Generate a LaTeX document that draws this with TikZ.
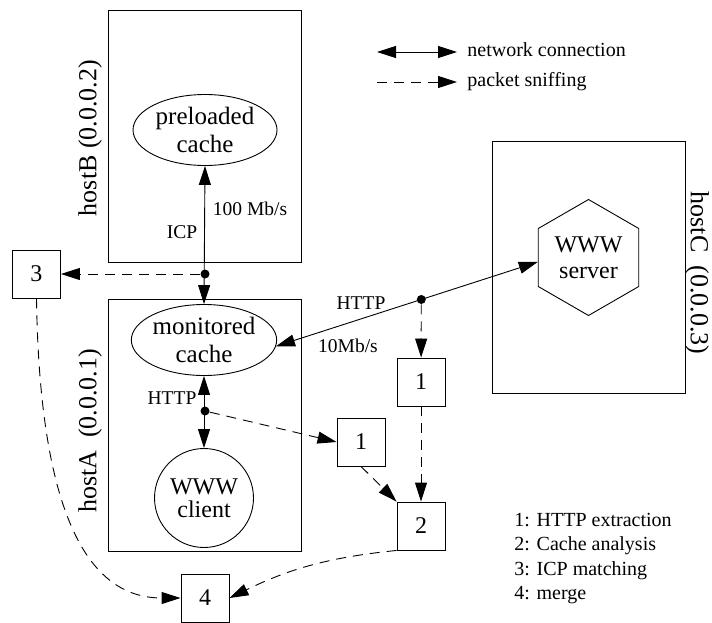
\documentclass[tikz,border=0pt]{standalone}
\usepackage{fontspec}
\setmainfont{Liberation Serif}
\usetikzlibrary{arrows.meta, shapes.geometric, calc, positioning}

\begin{document}
\begin{tikzpicture}[x=1pt, y=-1pt, line width=0.9pt,
    big/.style={font=\fontsize{25}{28}\selectfont},
    lab/.style={font=\fontsize{19.5}{22}\selectfont},
    leg/.style={font=\fontsize{20}{24}\selectfont, inner sep=0pt},
    hostlab/.style={font=\fontsize{26}{28}\selectfont, inner sep=0pt},
    hostbox/.style={draw, minimum width=193pt, minimum height=252pt, inner sep=0pt},
    procbox/.style={draw, minimum size=48pt, inner sep=0pt, font=\fontsize{24}{26}\selectfont},
    blob/.style={draw, ellipse, big, align=center, minimum width=144pt, minimum height=71pt, inner sep=0pt},
    net/.style={{Triangle[length=19pt,width=12pt]}-{Triangle[length=19pt,width=12pt]}},
    sniff/.style={dash pattern=on 10pt off 7pt, -{Triangle[length=19pt,width=12pt]}},
    tap/.style={circle, fill, inner sep=0pt, minimum size=9pt}]
    \useasboundingbox (0,0) rectangle (712,623);

    % hosts
    \node[hostbox] (hostB) at (204.5,136) {};
    \node[hostbox] (hostA) at (204.5,425) {};
    \node[hostbox] (hostC) at (589,267.5) {};
    \node[hostlab, rotate=90] (hostBlab) at (90,138) {hostB (0.0.0.2)};
    \node[hostlab, rotate=90] (hostAlab) at (90,431) {hostA\ \ (0.0.0.1)};
    \node[hostlab, rotate=-90] (hostClab) at (697,273) {hostC\ \ (0.0.0.3)};

    \node[blob] (pcache) at (205,130) {preloaded\\cache};
    \node[blob] (mcache) at (204,340) {monitored\\cache};
    \node[draw, circle, minimum size=99pt, inner sep=0pt, align=center, font=\fontsize{24}{23}\selectfont] (client) at (204,498) {WWW\\client};
    \node[draw, regular polygon, regular polygon sides=6, shape border rotate=30, minimum size=116pt, inner sep=0pt, align=center, font=\fontsize{24}{26}\selectfont] (server) at (588.5,257.5) {WWW\\server};

    % network connections
    \draw[net] (pcache.south) -- (mcache.north);
    \draw[net] (mcache.south) -- (client.north);
    \draw[net] (mcache.355) -- (server.185);
    \node[tap] (tapB) at (205,274) {};
    \node[tap] (tapA) at (205,411) {};
    \node[tap] (tapC) at ($(mcache.355)!0.555!(server.185)$) {};

    \node[lab] (icp) at (182,232) {ICP};
    \node[lab] (bwB) at (250,209) {100 Mb/s};
    \node[lab] (httpA) at (172,398) {HTTP};
    \node[lab] (httpC) at (361,303) {HTTP};
    \node[lab] (bwC) at (348,346) {10Mb/s};

    % processing steps
    \node[procbox] (sniffC) at (421,382) {1};
    \node[procbox] (sniffA) at (361,442) {1};
    \node[procbox] (cachean) at (421,526) {2};
    \node[procbox] (icpmatch) at (36.5,274) {3};
    \node[procbox] (merge) at (205,598) {4};

    \draw[sniff] (tapB) -- (icpmatch);
    \draw[sniff] (tapA) -- (sniffA.west);
    \draw[sniff] (tapC) -- (sniffC);
    \draw[sniff] (sniffC) -- (cachean);
    \draw[sniff] (sniffA.south) -- (cachean.north west);
    \draw[sniff] (cachean.south west) to[bend right=10] (merge.east);
    \draw[sniff] (icpmatch.south) .. controls (40,540) and (100,598) .. (merge.west);

    % legend
    \coordinate (netL) at (377,52);
    \coordinate (netR) at (457,52);
    \coordinate (snL) at (377,82);
    \coordinate (snR) at (457,82);
    \draw[net] (netL) -- (netR);
    \draw[sniff] (snL) -- (snR);
    \node[leg, anchor=base west] (netlab) at (467,57) {network connection};
    \node[leg, anchor=base west] (snlab) at (467,87) {packet sniffing};

    \node[leg, anchor=base west] (key1) at (514,526) {1: HTTP extraction};
    \node[leg, anchor=base west] (key2) at (514,550.5) {2: Cache analysis};
    \node[leg, anchor=base west] (key3) at (514,575) {3: ICP matching};
    \node[leg, anchor=base west] (key4) at (514,599.5) {4: merge};
\end{tikzpicture}
\end{document}
